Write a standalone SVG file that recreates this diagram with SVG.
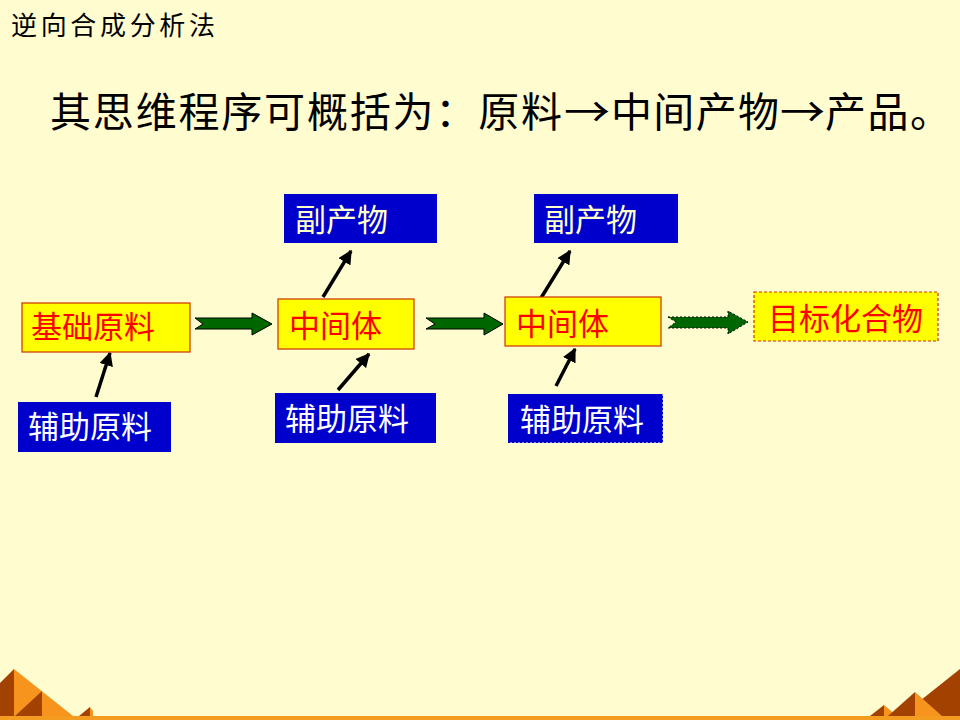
<svg xmlns="http://www.w3.org/2000/svg" width="960" height="720" viewBox="0 0 960 720">
<defs>
<style>
.cjk{font-family:"Noto Sans CJK SC","Noto Sans CJK JP",sans-serif;}
.yb{fill:#FFFF00;stroke:#CC3300;stroke-width:1.2;}
.bb{fill:#0000CC;stroke:none;}
.rt{fill:#FF0000;font-size:31px;}
.wt{fill:#FFFFFF;font-size:31px;}
.lt{fill:#FFFFCC;font-size:31px;}
.ga{fill:#006600;stroke:#000;stroke-width:1;}
.bl{stroke:#000;stroke-width:3.5;fill:none;marker-end:url(#ah);}
.dk{fill:#A34100;}
.or{fill:#F7941D;}
</style>
<marker id="ah" viewBox="0 0 10 10" refX="9" refY="5" markerWidth="4" markerHeight="4" orient="auto" markerUnits="strokeWidth">
<path d="M0,0 L10,5 L0,10 z" fill="#000"/>
</marker>
</defs>
<rect width="960" height="720" fill="#FFFCD0"/>
<g id="decor">
<polygon class="or" points="14,669 73,716 14,716"/>
<polygon class="dk" points="0,683 14,669 14,716 0,716"/>
<polygon class="dk" points="42,691 42,716 15,716"/>
<polygon class="dk" points="90,707 90,716 79,716"/>
<polygon class="or" points="90,707 93,711 93,716 90,716"/>
<polygon class="dk" points="960,669 960,716 901,716"/>
<polygon class="dk" points="884,705 884,716 870,716"/>
<polygon class="or" points="884,705 897,716 884,716"/>
<polygon class="dk" points="915,692 915,716 888,716"/>
<polygon class="or" points="915,692 942,716 915,716"/>
<rect x="0" y="716" width="960" height="4" fill="#F39C1F"/>
</g>
<g id="title">
<text class="cjk" x="11" y="35" font-size="26" fill="#000" textLength="204" lengthAdjust="spacing">逆向合成分析法</text>
</g>
<g id="heading">
<text class="cjk" y="127" font-size="41" fill="#000"><tspan x="50" textLength="512" lengthAdjust="spacing">其思维程序可概括为：原料</tspan><tspan x="564" textLength="46" lengthAdjust="spacingAndGlyphs">→</tspan><tspan x="611" textLength="168" lengthAdjust="spacing">中间产物</tspan><tspan x="780" textLength="45" lengthAdjust="spacingAndGlyphs">→</tspan><tspan x="825" textLength="126" lengthAdjust="spacing">产品。</tspan></text>
</g>
<g id="connectors">
<polygon class="ga" points="195,318 252,318 252,313 272,324 252,335 252,329 195,329 203,324"/>
<polygon class="ga" points="426,318 484,318 484,313 503,324 484,335 484,329 426,329 435,324"/>
<polygon class="ga" points="668,317 728,317 728,311 748,322 728,334 728,328 668,328 676,322" stroke-dasharray="2,2" stroke-width="1.5"/>
<line class="bl" x1="96" y1="397" x2="110" y2="353"/>
<line class="bl" x1="323" y1="297" x2="351" y2="251"/>
<line class="bl" x1="338" y1="390" x2="369" y2="354"/>
<line class="bl" x1="541" y1="298" x2="570" y2="251"/>
<line class="bl" x1="556" y1="386" x2="575" y2="349"/>
</g>
<g id="n1">
<rect class="yb" x="22" y="303" width="168" height="49"/>
<text class="cjk rt" x="31" y="338">基础原料</text>
</g>
<g id="n2">
<rect class="bb" x="18" y="402" width="153" height="50"/>
<text class="cjk wt" x="28" y="438">辅助原料</text>
</g>
<g id="n3">
<rect class="yb" x="278" y="299" width="136" height="50"/>
<text class="cjk rt" x="289" y="337">中间体</text>
</g>
<g id="n4">
<rect class="bb" x="284" y="194" width="153" height="49"/>
<text class="cjk lt" x="295" y="231">副产物</text>
</g>
<g id="n5">
<rect class="bb" x="275" y="393" width="161" height="50"/>
<text class="cjk wt" x="285" y="430">辅助原料</text>
</g>
<g id="n6">
<rect class="yb" x="505" y="297" width="156" height="49"/>
<text class="cjk rt" x="516" y="335">中间体</text>
</g>
<g id="n7">
<rect class="bb" x="534" y="194" width="144" height="49"/>
<text class="cjk lt" x="544" y="231">副产物</text>
</g>
<g id="n8">
<rect class="bb" x="508" y="394" width="155" height="49"/>
<path d="M663,394 V443 H508" fill="none" stroke="#FFFFFF" stroke-width="1" stroke-dasharray="2,2"/>
<text class="cjk wt" x="520" y="431">辅助原料</text>
</g>
<g id="n9">
<rect x="754" y="292" width="184" height="49" fill="#FFFF00" stroke="#CC3300" stroke-width="1.2" stroke-dasharray="3,2"/>
<text class="cjk rt" x="768" y="330">目标化合物</text>
</g>
</svg>
